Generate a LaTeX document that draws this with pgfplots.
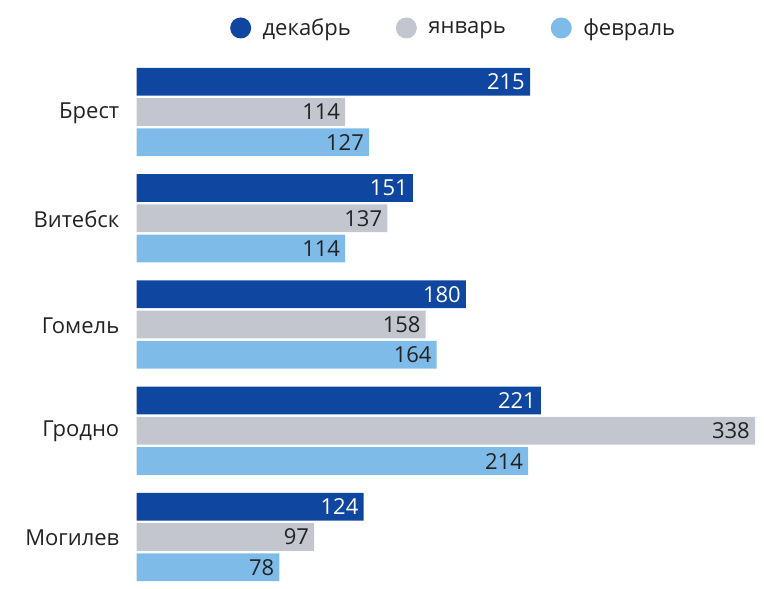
\documentclass[border=0pt]{standalone}
\usepackage{pgfplots}
\pgfplotsset{compat=1.18}
\usepackage{fontspec}
\setmainfont{Open Sans}
\definecolor{cdec}{HTML}{0E46A0}
\definecolor{cjan}{HTML}{C3C6CF}
\definecolor{cfeb}{HTML}{7FBBE8}
\definecolor{ctext}{HTML}{222222}
\newcommand{\lblfont}{\fontsize{22bp}{26bp}\selectfont}
\begin{document}
\begin{tikzpicture}
\path[use as bounding box] (0,0) rectangle (764bp,589bp);
\begin{axis}[
  at={(136.7bp,4.19bp)}, anchor=south west,
  scale only axis, width=618.3bp, height=520.6bp,
  xmin=0, xmax=338, ymin=-0.45, ymax=4.45,
  xbar, bar width=27.7bp,
  axis line style={draw=none}, tick style={draw=none},
  xtick=\empty, ytick={0,1,2,3,4},
  yticklabels={Могилев,Гродно,Гомель,Витебск,Брест},
  y tick label style={font=\lblfont, text=ctext, inner sep=0pt, xshift=-13bp, yshift=-1bp, anchor=east},
  nodes near coords,
  every node near coord/.append style={font=\lblfont, anchor=east, inner sep=0pt, xshift=-5bp},
  /pgf/number format/assume math mode=true,
  legend columns=3,
  legend image code/.code={\fill[#1] (10.5bp,0bp) circle (10.5bp);},
  legend style={draw=none, fill=none, font=\lblfont, text=ctext,
    at={(axis description cs:0.511,1.0696)}, anchor=center,
    nodes={inner sep=0pt},
    /tikz/every odd column/.append style={column sep=11.5bp},
    /tikz/every even column/.append style={column sep=45bp}},
]
\addplot[fill=cdec, draw=none, bar shift=30.3bp, nodes near coords style={text=white}]
  coordinates {(215,4) (151,3) (180,2) (221,1) (124,0)};
\addplot[fill=cjan, draw=none, bar shift=0bp, nodes near coords style={text=ctext}]
  coordinates {(114,4) (137,3) (158,2) (338,1) (97,0)};
\addplot[fill=cfeb, draw=none, bar shift=-30.3bp, nodes near coords style={text=ctext}]
  coordinates {(127,4) (114,3) (164,2) (214,1) (78,0)};
\legend{декабрь,январь,февраль}
\end{axis}
\end{tikzpicture}
\end{document}
